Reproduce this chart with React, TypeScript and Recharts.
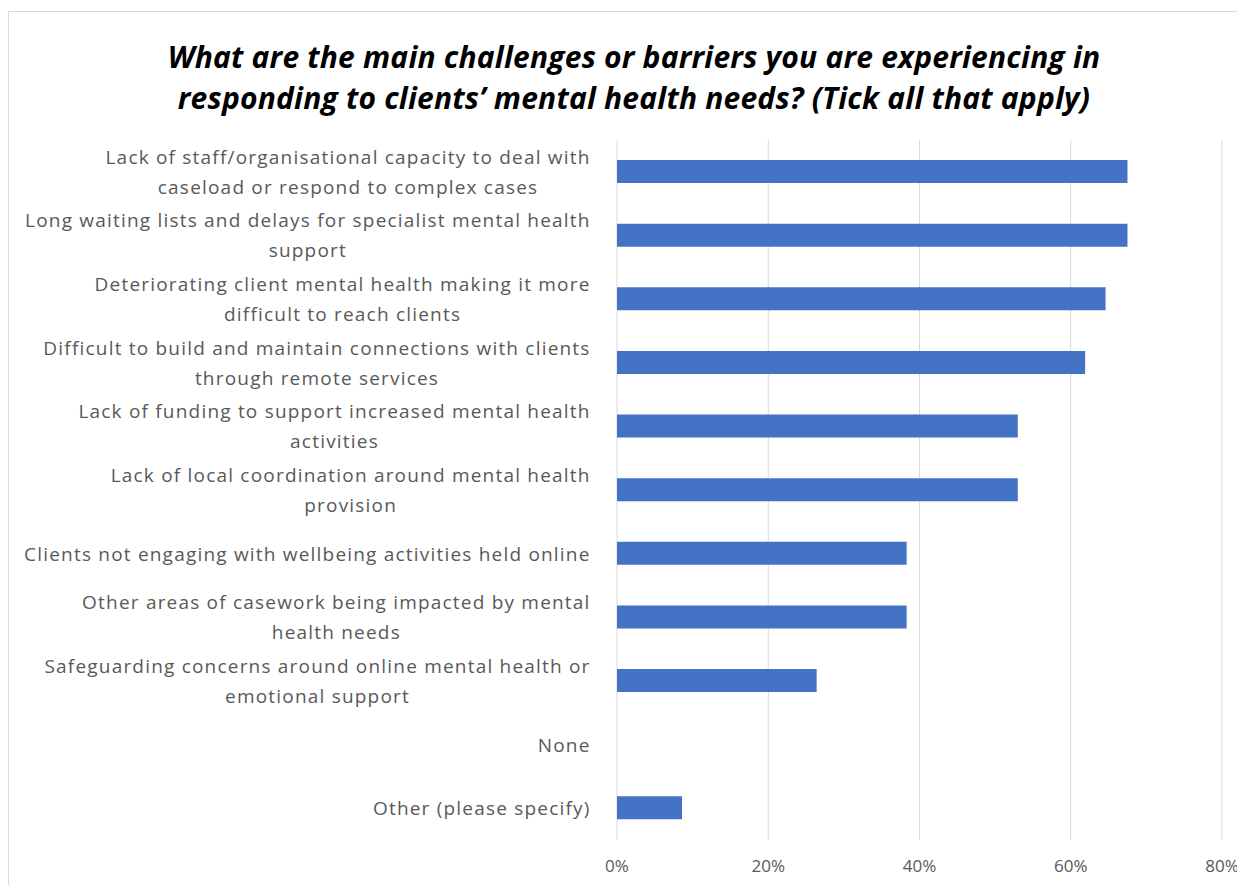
import React from "react";
import { BarChart, Bar, XAxis, YAxis, CartesianGrid } from "recharts";

const categories = [
  "Lack of staff/organisational capacity to deal with\ncaseload or respond to complex cases",
  "Long waiting lists and delays for specialist mental health\nsupport",
  "Deteriorating client mental health making it more\ndifficult to reach clients",
  "Difficult to build and maintain connections with clients\nthrough remote services",
  "Lack of funding to support increased mental health\nactivities",
  "Lack of local coordination around mental health\nprovision",
  "Clients not engaging with wellbeing activities held online",
  "Other areas of casework being impacted by mental\nhealth needs",
  "Safeguarding concerns around online mental health or\nemotional support",
  "None",
  "Other (please specify)",
];

const shares = [0.675, 0.675, 0.646, 0.619, 0.53, 0.53, 0.383, 0.383, 0.264, 0, 0.086];

const xTicks = [0, 0.2, 0.4, 0.6, 0.8];

const data = categories.map((name, i) => ({ name, value: shares[i] }));

const LABEL_SIZE = 19;
const LABEL_SPACING = 1.2;
const LABEL_FONT = `${LABEL_SIZE}px "Open Sans", sans-serif`;
const TEXT = "#595959";

let ctx: CanvasRenderingContext2D | null = null;
function measure(s: string) {
  if (!ctx) ctx = document.createElement("canvas").getContext("2d");
  if (!ctx) return s.length * 9.6;
  ctx.font = LABEL_FONT;
  return ctx.measureText(s).width + s.length * LABEL_SPACING;
}

function CategoryTick(props: any) {
  const { x, y, payload } = props;
  const lines: string[] = String(payload.value).split("\n");
  const maxW = Math.max(...lines.map(measure));
  const cx = x - maxW / 2;
  const lh = 30;
  const start = y - ((lines.length - 1) * lh) / 2;
  return (
    <g>
      {lines.map((l, i) => (
        <text
          key={i}
          x={cx + LABEL_SPACING / 2}
          y={start + i * lh}
          textAnchor="middle"
          dominantBaseline="central"
          fill={TEXT}
          style={{ font: LABEL_FONT, letterSpacing: LABEL_SPACING }}
        >
          {l}
        </text>
      ))}
    </g>
  );
}

export default function App() {
  return (
    <div
      style={{
        position: "relative",
        marginTop: 3,
        width: 1236,
        height: 873,
        border: "1px solid #d9d9d9",
        borderRight: "none",
        borderBottom: "none",
      }}
    >
      <style>{`.recharts-surface { overflow: visible; }`}</style>
      <div
        style={{
          position: "absolute",
          left: 0,
          top: 24,
          width: 1236,
          paddingLeft: 14,
          boxSizing: "border-box",
          textAlign: "center",
          fontFamily: '"Open Sans", sans-serif',
          fontWeight: "bold",
          fontStyle: "italic",
          fontSize: 30,
          lineHeight: "41px",
          letterSpacing: 0.2,
          color: "#000",
        }}
      >
        What are the main challenges or barriers you are experiencing in
        <br />
        responding to clients’ mental health needs? (Tick all that apply)
      </div>
      <BarChart
        width={1236}
        height={873}
        data={data}
        layout="vertical"
        margin={{ top: 128, right: 23, bottom: 5, left: 0 }}
      >
        <CartesianGrid horizontal={false} stroke="#d9d9d9" />
        <XAxis
          type="number"
          domain={[0, 0.8]}
          ticks={xTicks}
          tickFormatter={(v: number) => `${Math.round(v * 100)}%`}
          axisLine={false}
          tickLine={false}
          tickSize={0}
          tickMargin={20}
          height={40}
          tick={{ fill: TEXT, fontSize: 17, fontFamily: '"Open Sans", sans-serif' }}
        />
        <YAxis
          type="category"
          dataKey="name"
          width={608}
          axisLine={false}
          tickLine={false}
          tickSize={0}
          tickMargin={27}
          interval={0}
          tick={<CategoryTick />}
        />
        <Bar dataKey="value" fill="#4472C4" barSize={23} isAnimationActive={false} />
      </BarChart>
    </div>
  );
}
